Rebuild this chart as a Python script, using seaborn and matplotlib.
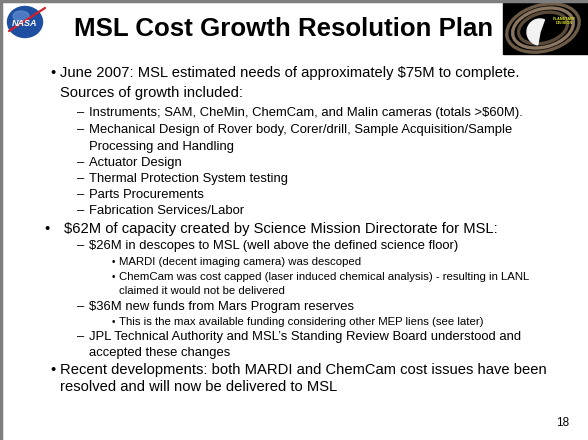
"""
MSL Cost Growth Resolution Plan - slide 18 recreated as a figure
"""

import matplotlib
matplotlib.use("Agg")
import matplotlib.pyplot as plt
import seaborn as sns
from matplotlib.patches import Ellipse, Rectangle, Wedge

sns.set_theme(style="white")
plt.rcParams['font.family'] = ['Liberation Sans', 'DejaVu Sans']

# slide content
title = "MSL Cost Growth Resolution Plan"
page_number = "18"

# outline level of each line, and whether it wraps the line above
levels = [1, 1, 2, 2, 2, 2, 2, 2, 2, 1, 2, 3, 3, 3, 2, 3, 2, 2, 1, 1]
continued = [False, True, False, False, True, False, False, False, False, False,
             False, False, False, True, False, False, False, True, False, True]
lines = [
    "June 2007: MSL estimated needs of approximately $75M to complete.",
    "Sources of growth included:",
    "Instruments; SAM, CheMin, ChemCam, and Malin cameras (totals >$60M).",
    "Mechanical Design of Rover body, Corer/drill, Sample Acquisition/Sample",
    "Processing and Handling",
    "Actuator Design",
    "Thermal Protection System testing",
    "Parts Procurements",
    "Fabrication Services/Labor",
    "$62M of capacity created by Science Mission Directorate for MSL:",
    "$26M in descopes to MSL (well above the defined science floor)",
    "MARDI (decent imaging camera) was descoped",
    "ChemCam was cost capped (laser induced chemical analysis) - resulting in LANL",
    "claimed it would not be delivered",
    "$36M new funds from Mars Program reserves",
    "This is the max available funding considering other MEP liens (see later)",
    "JPL Technical Authority and MSL\u2019s Standing Review Board understood and",
    "accepted these changes",
    "Recent developments: both MARDI and ChemCam cost issues have been",
    "resolved and will now be delivered to MSL",
]

# layout (pixel units, y down)
line_y = [73, 93, 113, 130, 147, 163, 179, 195, 211, 229,
          246, 262, 277, 291, 307, 322, 337, 353, 370, 387]
style = {
    1: dict(marker="\u2022", mx=50, tx=60, size=10.6),
    2: dict(marker="\u2013", mx=77, tx=89, size=9.4),
    3: dict(marker="\u2022", mx=112, tx=119, size=8.2),
}

fig = plt.figure(figsize=(5.88, 4.40), dpi=100)
ax = fig.add_axes([0, 0, 1, 1])
ax.set_xlim(0, 588)
ax.set_ylim(440, 0)
ax.axis("off")
fig.patch.set_facecolor("white")

# slide frame (top and left edges visible)
ax.plot([0, 588], [1, 1], color="#7f7f7f", lw=2.5)
ax.plot([1, 1], [0, 440], color="#7f7f7f", lw=2.5)

# NASA meatball
ax.add_patch(Ellipse((25, 22), 35, 31, color="#1f4fa0"))
ax.add_patch(Ellipse((21, 16), 16, 10, color="#6a98dc", alpha=0.6))
ax.plot([9, 45], [31, 8], color="#d0202a", lw=1.6)
ax.text(25, 23, "NASA", color="white", fontsize=6.5, weight="bold",
        style="italic", ha="center", va="center")

# Planetary division logo
ax.add_patch(Rectangle((503, 3), 85, 51, color="black"))
for w, h, c in [(74, 46, "#6b5a45"), (62, 38, "#8a7560"), (50, 30, "#5a4a38")]:
    ax.add_patch(Ellipse((543, 28), w, h, angle=-15, fill=False, ec=c, lw=2.4))
ax.add_patch(Wedge((540, 32), 13, 100, 290, color="#f2f2f2"))
ax.text(564, 21, "PLANETARY\nDIVISION", color="#d8e020", fontsize=2.8,
        weight="bold", ha="center", va="center", linespacing=1.0)

# title
ax.text(284, 29, title, fontsize=18.6, weight="bold", color="black",
        ha="center", va="center")

# bullet text
for lvl, cont, txt, y in zip(levels, continued, lines, line_y):
    st = style[lvl]
    mx, tx = st["mx"], st["tx"]
    if lvl == 1 and txt.startswith("$62M"):
        mx, tx = 44, 64
    if not cont:
        ax.text(mx, y, st["marker"], fontsize=st["size"] * (0.85 if lvl == 3 else 1.0),
                ha="left", va="center", color="black")
    ax.text(tx, y, txt, fontsize=st["size"], ha="left", va="center", color="black")

ax.text(563, 423, page_number, fontsize=8.5, ha="center", va="center", color="black")

fig.savefig("out.png", dpi=100, facecolor="white")
